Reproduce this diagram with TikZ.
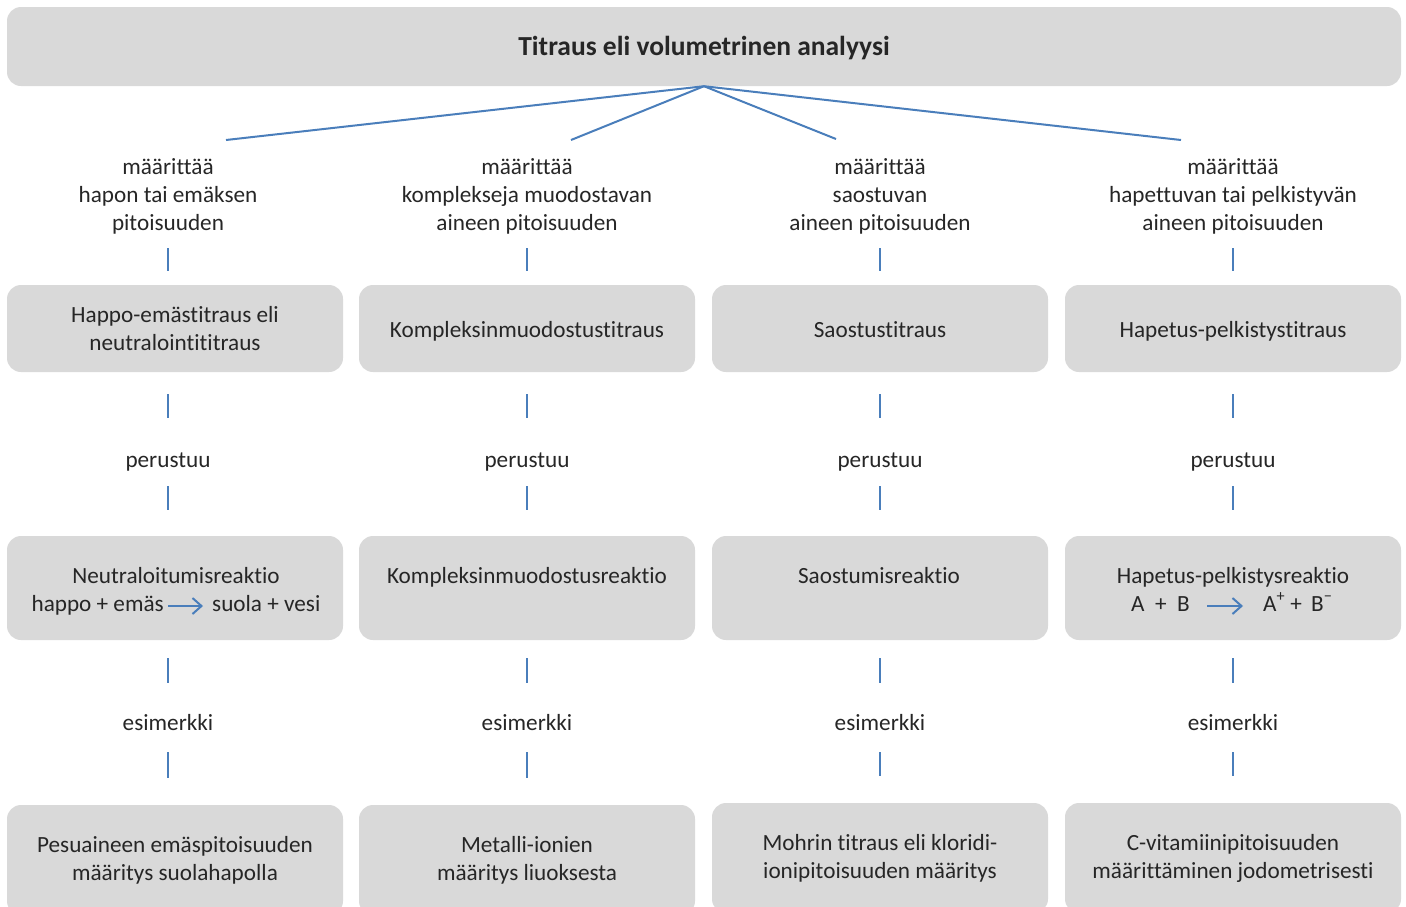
\documentclass[tikz,border=0pt]{standalone}
\usepackage{fontspec}
\setmainfont{Carlito}[Ligatures=NoCommon]
\usetikzlibrary{arrows.meta}
\definecolor{boxgray}{RGB}{217,217,217}
\definecolor{linkblue}{RGB}{74,126,187}
\definecolor{txtgray}{RGB}{38,38,38}
\tikzstyle{titlebox} = [rectangle, rounded corners=14pt, minimum width=1394pt, minimum height=79pt, fill=boxgray, text=txtgray, text height=20pt, text depth=2pt, font=\fontsize{27.5}{30}\selectfont\bfseries]
\tikzstyle{method} = [rectangle, rounded corners=14pt, minimum width=336pt, minimum height=87pt, fill=boxgray, text=txtgray, align=center]
\tikzstyle{oneline} = [text height=19pt, text depth=2pt]
\tikzstyle{reaction} = [method, minimum height=104pt]
\tikzstyle{example} = [method, minimum height=110pt]
\tikzstyle{word} = [inner sep=0pt, text=txtgray, text height=14pt, text depth=4pt]
\tikzstyle{info} = [inner sep=0pt, text=txtgray, align=center]
\tikzstyle{link} = [draw=linkblue, line width=2pt]
\tikzstyle{arrow} = [link, -{Straight Barb[length=9pt,width=16pt]}]

\begin{document}
\begin{tikzpicture}[x=1pt, y=-1pt, font=\fontsize{23.2}{28}\selectfont]
    \useasboundingbox (0,0) rectangle (1406,906);
    \clip (0,0) rectangle (1406,906);
    % title
    \node (title) [titlebox] at (704,46.5) {Titraus eli volumetrinen analyysi};
    \coordinate (end1) at (226,140);
    \coordinate (end2) at (571,140);
    \coordinate (end3) at (836,139);
    \coordinate (end4) at (1181,140);
    \draw [link] (title.south) -- (end1);
    \draw [link] (title.south) -- (end2);
    \draw [link] (title.south) -- (end3);
    \draw [link] (title.south) -- (end4);

    % what is determined
    \node (def1) [info] at (168,196) {määrittää\\hapon tai emäksen\\pitoisuuden};
    \node (def2) [info] at (527,196) {määrittää\\komplekseja muodostavan\\aineen pitoisuuden};
    \node (def3) [info] at (880,196) {määrittää\\saostuvan\\aineen pitoisuuden};
    \node (def4) [info] at (1233,196) {määrittää\\hapettuvan tai pelkistyvän\\aineen pitoisuuden};

    % titrations
    \node (tit1) [method] at (175,328.5) {Happo-emästitraus eli\\neutralointititraus};
    \node (tit2) [method, oneline] at (527,328.5) {Kompleksinmuodostustitraus};
    \node (tit3) [method, oneline] at (880,328.5) {Saostustitraus};
    \node (tit4) [method, oneline] at (1233,328.5) {Hapetus-pelkistystitraus};

    \node (base1) [word] at (168,462) {perustuu};
    \node (base2) [word] at (527,462) {perustuu};
    \node (base3) [word] at (880,462) {perustuu};
    \node (base4) [word] at (1233,462) {perustuu};

    % reactions
    \node (rea1) [reaction] at (175,588) {};
    \node (rea2) [reaction] at (527,588) {};
    \node (rea3) [reaction] at (880,588) {};
    \node (rea4) [reaction] at (1233,588) {};
    \node (rname1) [word] at (176,578) {Neutraloitumisreaktio};
    \node (lhs1) [word, anchor=east] at (164,606) {happo + emäs};
    \node (rhs1) [word, anchor=west] at (212,606) {suola + vesi};
    \node (rname2) [word] at (527,578) {Kompleksinmuodostusreaktio};
    \node (rname3) [word] at (879,578) {Saostumisreaktio};
    \node (rname4) [word] at (1233,578) {Hapetus-pelkistysreaktio};
    \node (lhs4) [word, anchor=east] at (1190,606) {A \ + \ B};
    \node (rhs4) [word, anchor=west] at (1263,606) {A\textsuperscript{+} + \,B\textsuperscript{\textminus}};
    \draw [arrow, shorten <=4pt, shorten >=9pt] (lhs1) -- (rhs1);
    \draw [arrow, shorten <=17pt, shorten >=20pt] (lhs4) -- (rhs4);

    \node (ex1) [word] at (168,725) {esimerkki};
    \node (ex2) [word] at (527,725) {esimerkki};
    \node (ex3) [word] at (880,725) {esimerkki};
    \node (ex4) [word] at (1233,725) {esimerkki};

    % examples
    \node (sam1) [example] at (175,860) {Pesuaineen emäspitoisuuden\\määritys suolahapolla};
    \node (sam2) [example] at (527,860) {Metalli-ionien\\määritys liuoksesta};
    \node (sam3) [example] at (880,858) {Mohrin titraus eli kloridi-\\ionipitoisuuden määritys};
    \node (sam4) [example] at (1233,858) {C-vitamiinipitoisuuden\\määrittäminen jodometrisesti};

    % short links
    \draw [link, shorten <=14pt, shorten >=14pt] (def1.south) -- (def1.south |- tit1.north);
    \draw [link, shorten <=14pt, shorten >=14pt] (def2.south) -- (def2.south |- tit2.north);
    \draw [link, shorten <=14pt, shorten >=14pt] (def3.south) -- (def3.south |- tit3.north);
    \draw [link, shorten <=14pt, shorten >=14pt] (def4.south) -- (def4.south |- tit4.north);
    \draw [link, shorten <=22pt, shorten >=35pt] (tit1.south -| base1) -- (base1.north);
    \draw [link, shorten <=22pt, shorten >=35pt] (tit2.south -| base2) -- (base2.north);
    \draw [link, shorten <=22pt, shorten >=35pt] (tit3.south -| base3) -- (base3.north);
    \draw [link, shorten <=22pt, shorten >=35pt] (tit4.south -| base4) -- (base4.north);
    \draw [link, shorten <=15pt, shorten >=26pt] (base1.south) -- (base1.south |- rea1.north);
    \draw [link, shorten <=15pt, shorten >=26pt] (base2.south) -- (base2.south |- rea2.north);
    \draw [link, shorten <=15pt, shorten >=26pt] (base3.south) -- (base3.south |- rea3.north);
    \draw [link, shorten <=15pt, shorten >=26pt] (base4.south) -- (base4.south |- rea4.north);
    \draw [link, shorten <=18pt, shorten >=33pt] (rea1.south -| ex1) -- (ex1.north);
    \draw [link, shorten <=18pt, shorten >=33pt] (rea2.south -| ex2) -- (ex2.north);
    \draw [link, shorten <=18pt, shorten >=33pt] (rea3.south -| ex3) -- (ex3.north);
    \draw [link, shorten <=18pt, shorten >=33pt] (rea4.south -| ex4) -- (ex4.north);
    \draw [link, shorten <=18pt, shorten >=27pt] (ex1.south) -- (ex1.south |- sam1.north);
    \draw [link, shorten <=18pt, shorten >=27pt] (ex2.south) -- (ex2.south |- sam2.north);
    \draw [link, shorten <=18pt, shorten >=27pt] (ex3.south) -- (ex3.south |- sam3.north);
    \draw [link, shorten <=18pt, shorten >=27pt] (ex4.south) -- (ex4.south |- sam4.north);
\end{tikzpicture}
\end{document}
